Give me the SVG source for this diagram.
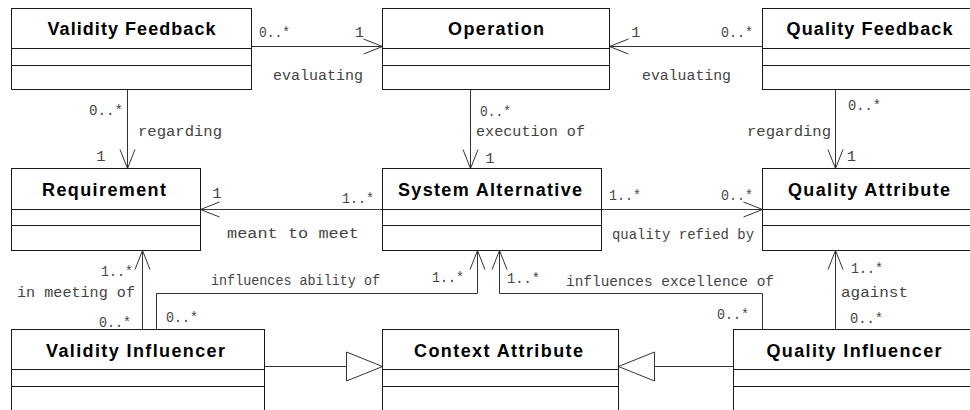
<svg xmlns="http://www.w3.org/2000/svg" width="970" height="410" viewBox="0 0 970 410">
<style>
.box{fill:#fff;stroke:#1a1a1a;stroke-width:1}
.div{stroke:#1a1a1a;stroke-width:1}
.title{font-family:"Liberation Sans",Arial,sans-serif;font-weight:bold;font-size:18px;fill:#000;text-anchor:middle}
.lbl{font-family:"Liberation Mono","Courier New",monospace;font-size:15.5px;fill:#444}
.c{text-anchor:middle}
.conn{fill:none;stroke:#333;stroke-width:1}
</style>
<defs>
<marker id="open" markerUnits="userSpaceOnUse" markerWidth="22" markerHeight="18" refX="19" refY="7.5" orient="auto" overflow="visible">
<path d="M0,0 L19,7.5 L0,15" fill="none" stroke="#333" stroke-width="1"/>
</marker>
<marker id="gen" markerUnits="userSpaceOnUse" markerWidth="40" markerHeight="32" refX="36" refY="14.5" orient="auto" overflow="visible">
<path d="M0,0 L36,14.5 L0,29 Z" fill="#fff" stroke="#333" stroke-width="1"/>
</marker>
</defs>
<rect width="970" height="410" fill="#fff"/>

<g id="connectors">
<line class="conn" x1="251.5" y1="46.5" x2="382.5" y2="46.5" marker-end="url(#open)"/>
<line class="conn" x1="762.5" y1="46.5" x2="609.5" y2="46.5" marker-end="url(#open)"/>
<line class="conn" x1="127.5" y1="89.5" x2="127.5" y2="168.5" marker-end="url(#open)"/>
<line class="conn" x1="470.5" y1="89.5" x2="470.5" y2="168.5" marker-end="url(#open)"/>
<line class="conn" x1="835.5" y1="89.5" x2="835.5" y2="168.5" marker-end="url(#open)"/>
<line class="conn" x1="382.5" y1="209.5" x2="200.5" y2="209.5" marker-end="url(#open)"/>
<line class="conn" x1="601.5" y1="209.5" x2="762.5" y2="209.5" marker-end="url(#open)"/>
<line class="conn" x1="142.5" y1="329.5" x2="142.5" y2="250.5" marker-end="url(#open)"/>
<polyline class="conn" points="156.5,329.5 156.5,293.5 477.5,293.5 477.5,250.5" marker-end="url(#open)"/>
<polyline class="conn" points="762.5,329.5 762.5,293.5 499.5,293.5 499.5,250.5" marker-end="url(#open)"/>
<line class="conn" x1="835.5" y1="329.5" x2="835.5" y2="250.5" marker-end="url(#open)"/>
<line class="conn" x1="264.5" y1="366.5" x2="382.5" y2="366.5" marker-end="url(#gen)"/>
<line class="conn" x1="733.5" y1="366.5" x2="618.5" y2="366.5" marker-end="url(#gen)"/>

<text class="lbl" x="259" y="37" textLength="31" lengthAdjust="spacingAndGlyphs">0..*</text>
<text class="lbl c" x="359.5" y="37">1</text>
<text class="lbl" x="273" y="80" textLength="90" lengthAdjust="spacingAndGlyphs">evaluating</text>
<text class="lbl c" x="636" y="37">1</text>
<text class="lbl" x="721" y="37" textLength="32" lengthAdjust="spacingAndGlyphs">0..*</text>
<text class="lbl" x="642" y="80" textLength="89" lengthAdjust="spacingAndGlyphs">evaluating</text>

<text class="lbl" x="89" y="115" textLength="34" lengthAdjust="spacingAndGlyphs">0..*</text>
<text class="lbl" x="138" y="136" textLength="84" lengthAdjust="spacingAndGlyphs">regarding</text>
<text class="lbl c" x="101" y="161">1</text>
<text class="lbl" x="480" y="116" textLength="31" lengthAdjust="spacingAndGlyphs">0..*</text>
<text class="lbl" x="476" y="136" textLength="109" lengthAdjust="spacingAndGlyphs">execution of</text>
<text class="lbl c" x="490" y="163">1</text>
<text class="lbl" x="848" y="110" textLength="33" lengthAdjust="spacingAndGlyphs">0..*</text>
<text class="lbl" x="747" y="136" textLength="84" lengthAdjust="spacingAndGlyphs">regarding</text>
<text class="lbl c" x="851.5" y="161">1</text>

<text class="lbl c" x="217" y="198">1</text>
<text class="lbl" x="342" y="203" textLength="32" lengthAdjust="spacingAndGlyphs">1..*</text>
<text class="lbl" x="227" y="238" textLength="132" lengthAdjust="spacingAndGlyphs">meant to meet</text>
<text class="lbl" x="609" y="200" textLength="32" lengthAdjust="spacingAndGlyphs">1..*</text>
<text class="lbl" x="721" y="200" textLength="32" lengthAdjust="spacingAndGlyphs">0..*</text>
<text class="lbl" x="612" y="239" textLength="142" lengthAdjust="spacingAndGlyphs">quality refied by</text>

<text class="lbl" x="101" y="276" textLength="32" lengthAdjust="spacingAndGlyphs">1..*</text>
<text class="lbl" x="17" y="297" textLength="118" lengthAdjust="spacingAndGlyphs">in meeting of</text>
<text class="lbl" x="99" y="327" textLength="32" lengthAdjust="spacingAndGlyphs">0..*</text>
<text class="lbl" x="166" y="322" textLength="32" lengthAdjust="spacingAndGlyphs">0..*</text>
<text class="lbl" x="211" y="285" textLength="169" lengthAdjust="spacingAndGlyphs">influences ability of</text>
<text class="lbl" x="432" y="282" textLength="32" lengthAdjust="spacingAndGlyphs">1..*</text>
<text class="lbl" x="507" y="283" textLength="33" lengthAdjust="spacingAndGlyphs">1..*</text>
<text class="lbl" x="566" y="286" textLength="208" lengthAdjust="spacingAndGlyphs">influences excellence of</text>
<text class="lbl" x="717" y="319" textLength="32" lengthAdjust="spacingAndGlyphs">0..*</text>
<text class="lbl" x="851" y="273" textLength="32" lengthAdjust="spacingAndGlyphs">1..*</text>
<text class="lbl" x="841" y="297" textLength="67" lengthAdjust="spacingAndGlyphs">against</text>
<text class="lbl" x="850" y="323" textLength="33" lengthAdjust="spacingAndGlyphs">0..*</text>
</g>

<g id="validity-feedback">
<rect class="box" x="11.5" y="8.5" width="240" height="81"/>
<line class="div" x1="11.5" y1="48.5" x2="251.5" y2="48.5"/>
<line class="div" x1="11.5" y1="65.5" x2="251.5" y2="65.5"/>
<text class="title" x="131.5" y="35" textLength="168">Validity Feedback</text>
</g>
<g id="operation">
<rect class="box" x="382.5" y="8.5" width="227" height="81"/>
<line class="div" x1="382.5" y1="48.5" x2="609.5" y2="48.5"/>
<line class="div" x1="382.5" y1="65.5" x2="609.5" y2="65.5"/>
<text class="title" x="496" y="35" textLength="96">Operation</text>
</g>
<g id="quality-feedback">
<rect class="box" x="762.5" y="8.5" width="230" height="81"/>
<line class="div" x1="762.5" y1="48.5" x2="992" y2="48.5"/>
<line class="div" x1="762.5" y1="65.5" x2="992" y2="65.5"/>
<text class="title" x="869.5" y="35" textLength="166">Quality Feedback</text>
</g>

<g id="requirement">
<rect class="box" x="11.5" y="168.5" width="189" height="82"/>
<line class="div" x1="11.5" y1="209.5" x2="200.5" y2="209.5"/>
<line class="div" x1="11.5" y1="225.5" x2="200.5" y2="225.5"/>
<text class="title" x="104" y="196" textLength="124">Requirement</text>
</g>
<g id="system-alternative">
<rect class="box" x="382.5" y="168.5" width="219" height="82"/>
<line class="div" x1="382.5" y1="209.5" x2="601.5" y2="209.5"/>
<line class="div" x1="382.5" y1="225.5" x2="601.5" y2="225.5"/>
<text class="title" x="490" y="196" textLength="184">System Alternative</text>
</g>
<g id="quality-attribute">
<rect class="box" x="762.5" y="168.5" width="230" height="82"/>
<line class="div" x1="762.5" y1="209.5" x2="992" y2="209.5"/>
<line class="div" x1="762.5" y1="225.5" x2="992" y2="225.5"/>
<text class="title" x="869" y="196" textLength="162">Quality Attribute</text>
</g>

<g id="validity-influencer">
<rect class="box" x="11.5" y="329.5" width="253" height="90"/>
<line class="div" x1="11.5" y1="369.5" x2="264.5" y2="369.5"/>
<line class="div" x1="11.5" y1="386.5" x2="264.5" y2="386.5"/>
<text class="title" x="135.5" y="357" textLength="179">Validity Influencer</text>
</g>
<g id="context-attribute">
<rect class="box" x="382.5" y="329.5" width="236" height="90"/>
<line class="div" x1="382.5" y1="369.5" x2="618.5" y2="369.5"/>
<line class="div" x1="382.5" y1="386.5" x2="618.5" y2="386.5"/>
<text class="title" x="498.5" y="357" textLength="169">Context Attribute</text>
</g>
<g id="quality-influencer">
<rect class="box" x="733.5" y="329.5" width="260" height="90"/>
<line class="div" x1="733.5" y1="369.5" x2="993" y2="369.5"/>
<line class="div" x1="733.5" y1="386.5" x2="993" y2="386.5"/>
<text class="title" x="854" y="357" textLength="175">Quality Influencer</text>
</g>
</svg>
